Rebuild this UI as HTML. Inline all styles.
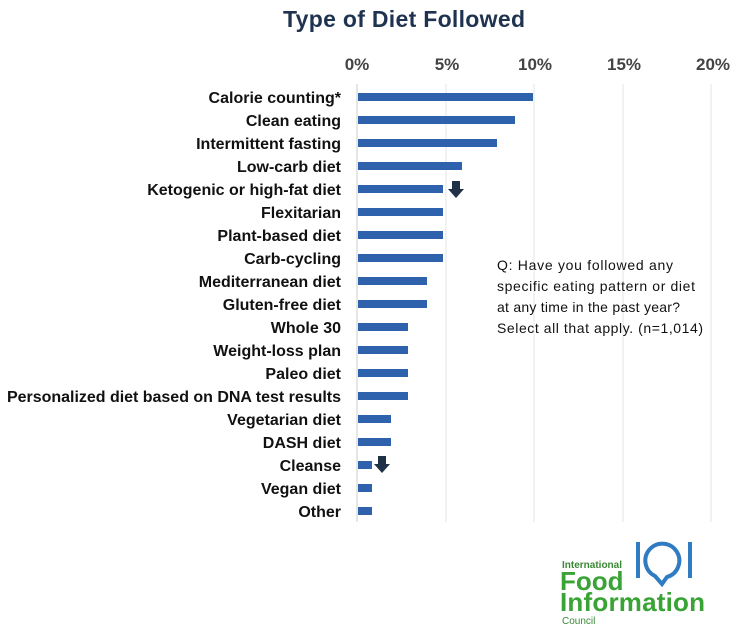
<!DOCTYPE html>
<html><head><meta charset="utf-8"><style>
body{margin:0;background:#fff;}
svg{display:block;font-family:"Liberation Sans",sans-serif;}
</style></head><body>
<svg width="749" height="644" xmlns="http://www.w3.org/2000/svg">
<rect width="749" height="644" fill="#fff"/>
<text x="404" y="27" text-anchor="middle" font-size="23" font-weight="bold" fill="#1f3350" textLength="242">Type of Diet Followed</text>
<g font-size="17" fill="#444" text-anchor="middle" font-weight="bold">
<text x="357" y="70">0%</text><text x="447" y="70">5%</text><text x="535" y="70">10%</text><text x="624" y="70">15%</text><text x="713" y="70">20%</text>
</g>
<g stroke="#e2e6ea" stroke-width="1">
<line x1="446" y1="84" x2="446" y2="522"/><line x1="534" y1="84" x2="534" y2="522"/><line x1="623" y1="84" x2="623" y2="522"/><line x1="711" y1="84" x2="711" y2="522"/>
</g>
<line x1="357" y1="84" x2="357" y2="522" stroke="#ccc"/>
<g fill="#2f62ad">
<rect x="358" y="93" width="175" height="8"/>
<rect x="358" y="116" width="157" height="8"/>
<rect x="358" y="139" width="139" height="8"/>
<rect x="358" y="162" width="104" height="8"/>
<rect x="358" y="185" width="85" height="8"/>
<rect x="358" y="208" width="85" height="8"/>
<rect x="358" y="231" width="85" height="8"/>
<rect x="358" y="254" width="85" height="8"/>
<rect x="358" y="277" width="69" height="8"/>
<rect x="358" y="300" width="69" height="8"/>
<rect x="358" y="323" width="50" height="8"/>
<rect x="358" y="346" width="50" height="8"/>
<rect x="358" y="369" width="50" height="8"/>
<rect x="358" y="392" width="50" height="8"/>
<rect x="358" y="415" width="33" height="8"/>
<rect x="358" y="438" width="33" height="8"/>
<rect x="358" y="461" width="14" height="8"/>
<rect x="358" y="484" width="14" height="8"/>
<rect x="358" y="507" width="14" height="8"/>
</g>
<g font-size="16" fill="#111" text-anchor="end" font-weight="bold">
<text x="341" y="103">Calorie counting*</text>
<text x="341" y="126">Clean eating</text>
<text x="341" y="149">Intermittent fasting</text>
<text x="341" y="172">Low-carb diet</text>
<text x="341" y="195">Ketogenic or high-fat diet</text>
<text x="341" y="218">Flexitarian</text>
<text x="341" y="241">Plant-based diet</text>
<text x="341" y="264">Carb-cycling</text>
<text x="341" y="287">Mediterranean diet</text>
<text x="341" y="310">Gluten-free diet</text>
<text x="341" y="333">Whole 30</text>
<text x="341" y="356">Weight-loss plan</text>
<text x="341" y="379">Paleo diet</text>
<text x="341" y="402" textLength="334">Personalized diet based on DNA test results</text>
<text x="341" y="425">Vegetarian diet</text>
<text x="341" y="448">DASH diet</text>
<text x="341" y="471">Cleanse</text>
<text x="341" y="494">Vegan diet</text>
<text x="341" y="517">Other</text>
</g>
<path d="M452 181h8v8h4l-8 9-8-9h4z" fill="#1f3147"/>
<path d="M378 456h8v8h4l-8 9-8-9h4z" fill="#1f3147"/>
<g font-size="14" fill="#111">
<text x="497" y="270" textLength="176">Q: Have you followed any</text>
<text x="497" y="291" textLength="198">specific eating pattern or diet</text>
<text x="497" y="312" textLength="183">at any time in the past year?</text>
<text x="497" y="333" textLength="206">Select all that apply. (n=1,014)</text>
</g>
<g fill="#3aa335" font-weight="bold">
<text x="562" y="568" font-size="10" fill="#3a8a35">International</text>
<text x="560" y="590" font-size="26">Food</text>
<text x="560" y="611" font-size="26" textLength="145">Information</text>
<text x="562" y="624" font-size="10" font-weight="normal" fill="#3a8a35">Council</text>
</g>
<g stroke="#2f7cc2" stroke-width="4" fill="none">
<path d="M655 576 A17 17 0 1 1 667 577 L662 584 Z"/>
<line x1="638" y1="542" x2="638" y2="578"/>
<line x1="690" y1="542" x2="690" y2="578"/>
</g>
</svg>
</body></html>
